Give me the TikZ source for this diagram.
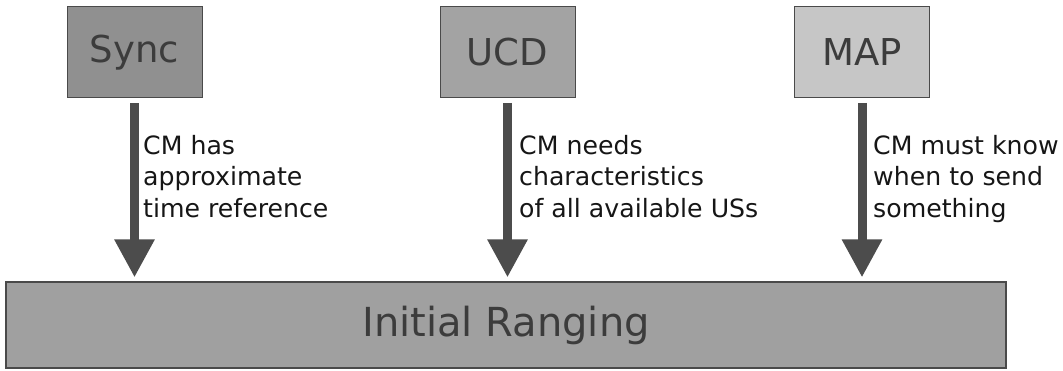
\documentclass[tikz,border=0pt]{standalone}
\usepackage{fontspec}
\setmainfont{DejaVu Sans}
\usetikzlibrary{arrows.meta}

\definecolor{syncfill}{HTML}{909090}
\definecolor{ucdfill}{HTML}{A3A3A3}
\definecolor{mapfill}{HTML}{C6C6C6}
\definecolor{barfill}{HTML}{A0A0A0}
\definecolor{edge}{HTML}{4A4A4A}
\definecolor{boxtext}{HTML}{3C3C3C}
\definecolor{arrowgray}{HTML}{4C4C4C}
\definecolor{labeltext}{HTML}{161616}

\tikzset{
  msgbox/.style={draw=edge, line width=1pt, minimum width=135pt, minimum height=91pt,
    inner sep=0pt, text=boxtext, font=\fontsize{37}{40}\selectfont},
  rangebar/.style={draw=edge, line width=1.2pt, minimum width=1000pt, minimum height=86pt,
    inner sep=0pt, fill=barfill, text=boxtext, font=\fontsize{40}{44}\selectfont},
  flow/.style={draw=arrowgray, line width=9pt, shorten <=5pt, shorten >=4pt,
    -{Triangle[width=38pt,length=38pt]}},
  note/.style={anchor=north west, inner sep=0pt, align=left, text=labeltext,
    font=\fontsize{25.2}{31.5}\selectfont}
}

\begin{document}
\begin{tikzpicture}[x=1pt,y=-1pt]
  \useasboundingbox (0,0) rectangle (1063,371);

  % message boxes
  \node[msgbox, fill=syncfill] (sync) at (134.5,52.5) {Sync};
  \node[msgbox, fill=ucdfill]  (ucd)  at (507.5,52)   {UCD};
  \node[msgbox, fill=mapfill]  (map)  at (862,52)     {MAP};

  % ranging bar
  \node[rangebar] (ranging) at (506,325) {Initial Ranging};

  % arrows into the ranging bar
  \draw[flow] (sync.south) -- (sync.south |- ranging.north);
  \draw[flow] (ucd.south)  -- (ucd.south |- ranging.north);
  \draw[flow] (map.south)  -- (map.south |- ranging.north);

  % explanations beside the arrows
  \node[note] (syncnote) at (143,135) {CM has\\approximate\\time reference};
  \node[note] (ucdnote)  at (519,135) {CM needs\\characteristics\\of all available USs};
  \node[note] (mapnote)  at (873,135) {CM must know\\when to send\\something};
\end{tikzpicture}
\end{document}
